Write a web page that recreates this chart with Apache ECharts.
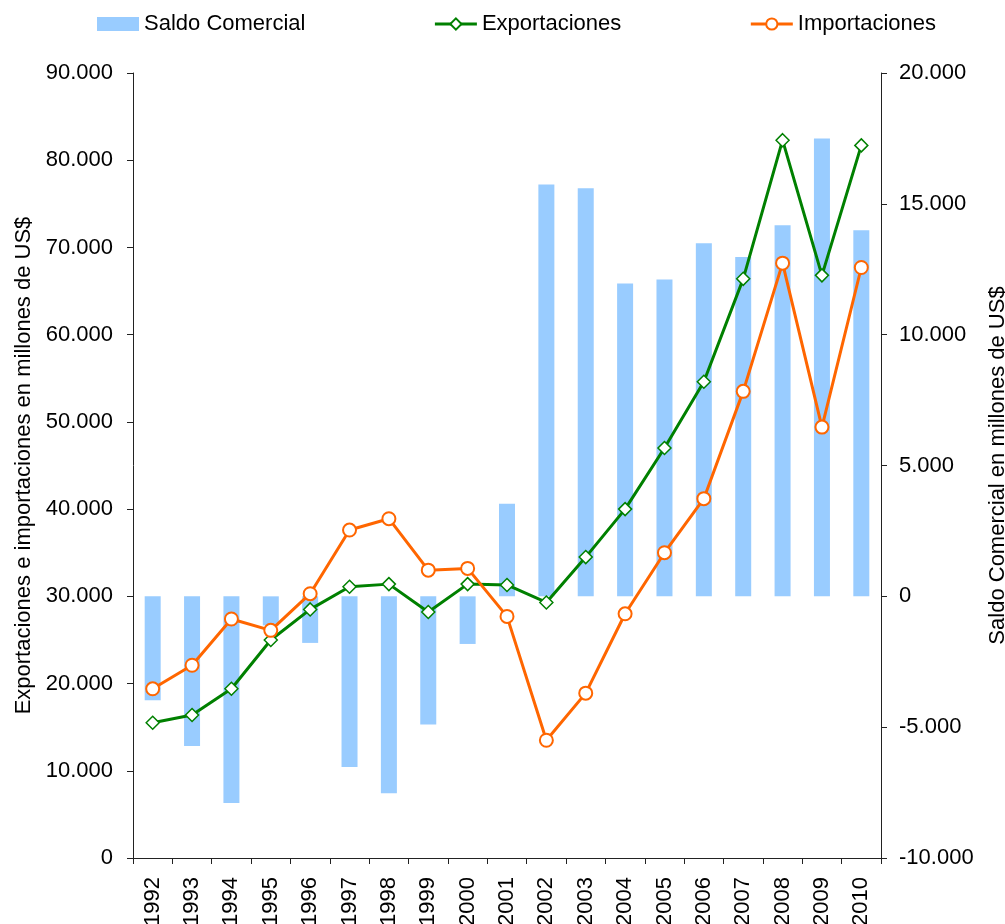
<!DOCTYPE html>
<html>
<head>
<meta charset="utf-8">
<script src="https://cdn.jsdelivr.net/npm/echarts@6/dist/echarts.min.js"></script>
<style>
  html, body { margin: 0; padding: 0; background: #fff; }
  #chart { width: 1005px; height: 924px; }
</style>
</head>
<body>
<div id="chart"></div>
<script>
// years on the category axis
const years = ['1992', '1993', '1994', '1995', '1996', '1997', '1998', '1999', '2000', '2001',
               '2002', '2003', '2004', '2005', '2006', '2007', '2008', '2009', '2010'];

// millions of US$
const exportaciones = [15500, 16400, 19400, 25000, 28500, 31100, 31400, 28200, 31400, 31300,
                       29300, 34500, 40000, 47000, 54600, 66400, 82300, 66800, 81700];
const importaciones = [19400, 22100, 27400, 26100, 30300, 37600, 38900, 33000, 33200, 27700,
                       13500, 18900, 28000, 35000, 41200, 53500, 68200, 49400, 67700];
const saldoComercial = [-3970, -5720, -7900, -1110, -1780, -6520, -7530, -4900, -1820, 3540,
                        15740, 15600, 11960, 12110, 13490, 12970, 14180, 17500, 13990];

const font = 'Liberation Sans, Arial, sans-serif';

// 90000 -> "90.000"
function miles(v) {
    const s = String(Math.abs(v)).replace(/\B(?=(\d{3})+(?!\d))/g, '.');
    return (v < 0 ? '-' : '') + s;
}

const axisLine = { show: true, lineStyle: { color: '#222', width: 1 } };

const option = {
    animation: false,
    textStyle: { fontFamily: font, color: '#000' },
    legend: {
        top: 8,
        left: 92,
        itemWidth: 42,
        itemHeight: 14,
        itemGap: 128,
        lineStyle: { width: 3 },
        textStyle: { fontSize: 22, fontFamily: font, color: '#000' },
        data: [
            { name: 'Saldo Comercial', icon: 'rect' },
            'Exportaciones',
            'Importaciones'
        ]
    },
    grid: { left: 133, right: 124, top: 73, bottom: 66, outerBoundsMode: 'none', containLabel: false },
    xAxis: {
        type: 'category',
        data: years,
        boundaryGap: true,
        axisLine: axisLine,
        axisTick: { show: true, interval: 0, length: 6, lineStyle: { color: '#222' } },
        axisLabel: { interval: 0, rotate: 90, margin: 19, fontSize: 22, fontFamily: font, color: '#000' }
    },
    yAxis: [
        {
            type: 'value',
            min: 0,
            max: 90000,
            interval: 10000,
            name: 'Exportaciones e importaciones en millones de US$',
            nameLocation: 'middle',
            nameGap: 98,
            nameTextStyle: { fontSize: 22, fontFamily: font, color: '#000' },
            axisLine: axisLine,
            axisTick: { show: true, length: 6, lineStyle: { color: '#222' } },
            splitLine: { show: false },
            axisLabel: { margin: 20, fontSize: 22, fontFamily: font, color: '#000', formatter: miles }
        },
        {
            type: 'value',
            position: 'right',
            min: -10000,
            max: 20000,
            interval: 5000,
            name: 'Saldo Comercial en millones de US$',
            nameLocation: 'middle',
            nameGap: 106,
            nameTextStyle: { fontSize: 22, fontFamily: font, color: '#000' },
            axisLine: axisLine,
            axisTick: { show: true, length: 6, lineStyle: { color: '#222' } },
            splitLine: { show: false },
            axisLabel: { margin: 18, fontSize: 22, fontFamily: font, color: '#000', formatter: miles }
        }
    ],
    series: [
        {
            name: 'Saldo Comercial',
            type: 'bar',
            yAxisIndex: 1,
            barWidth: 16,
            itemStyle: { color: '#99CCFF' },
            data: saldoComercial
        },
        {
            name: 'Exportaciones',
            type: 'line',
            yAxisIndex: 0,
            symbol: 'diamond',
            symbolSize: 13,
            lineStyle: { color: '#008000', width: 3 },
            itemStyle: { color: '#fff', borderColor: '#008000', borderWidth: 1.5 },
            data: exportaciones
        },
        {
            name: 'Importaciones',
            type: 'line',
            yAxisIndex: 0,
            symbol: 'circle',
            symbolSize: 13,
            lineStyle: { color: '#FF6600', width: 3 },
            itemStyle: { color: '#fff', borderColor: '#FF6600', borderWidth: 2 },
            data: importaciones
        }
    ]
};

const chart = echarts.init(document.getElementById('chart'));
chart.setOption(option);
</script>
</body>
</html>
